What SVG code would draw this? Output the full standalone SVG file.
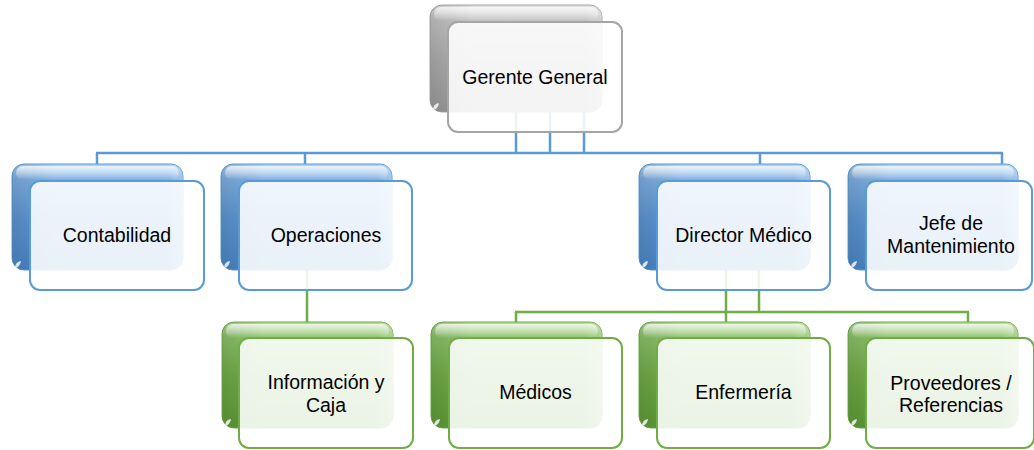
<svg xmlns="http://www.w3.org/2000/svg" width="1034" height="450" viewBox="0 0 1034 450">
  <defs>
    <linearGradient id="gBlue" x1="0" y1="0" x2="0" y2="1">
      <stop offset="0" stop-color="#b3d3f2"/>
      <stop offset="0.14" stop-color="#7fb1e4"/>
      <stop offset="0.5" stop-color="#5f98d6"/>
      <stop offset="1" stop-color="#4a87c8"/>
    </linearGradient>
    <linearGradient id="gGreen" x1="0" y1="0" x2="0" y2="1">
      <stop offset="0" stop-color="#b9dca0"/>
      <stop offset="0.14" stop-color="#8cc46a"/>
      <stop offset="0.5" stop-color="#72ae4a"/>
      <stop offset="1" stop-color="#5f9c38"/>
    </linearGradient>
    <linearGradient id="gGrey" x1="0" y1="0" x2="0" y2="1">
      <stop offset="0" stop-color="#e2e2e2"/>
      <stop offset="0.14" stop-color="#c4c4c4"/>
      <stop offset="0.5" stop-color="#b0b0b0"/>
      <stop offset="1" stop-color="#9c9c9c"/>
    </linearGradient>
    <!-- soft sheen along the top edge of the back plate -->
    <linearGradient id="gSheen" x1="0" y1="0" x2="0" y2="1">
      <stop offset="0" stop-color="#ffffff" stop-opacity="0.75"/>
      <stop offset="1" stop-color="#ffffff" stop-opacity="0"/>
    </linearGradient>
    <!-- darker shading down the left side of the back plate -->
    <linearGradient id="gSide" x1="0" y1="0" x2="1" y2="0">
      <stop offset="0" stop-color="#000000" stop-opacity="0.12"/>
      <stop offset="0.25" stop-color="#000000" stop-opacity="0"/>
      <stop offset="0.9" stop-color="#ffffff" stop-opacity="0"/>
      <stop offset="1" stop-color="#ffffff" stop-opacity="0.25"/>
    </linearGradient>
  </defs>
  <style>
    .back { rx: 12px; ry: 12px; stroke-width: 1; }
    .sheen { fill: url(#gSheen); }
    .side { fill: url(#gSide); }
    .notch { fill: #ffffff; opacity: 0.8; }
    .front { rx: 10px; ry: 10px; fill: #ffffff; fill-opacity: 0.88; stroke-width: 2; }
    .blue .back { fill: url(#gBlue); stroke: #5b9bd5; }
    .blue .front { stroke: #5b9bd5; }
    .green .back { fill: url(#gGreen); stroke: #70ad47; }
    .green .front { stroke: #70ad47; }
    .grey .back { fill: url(#gGrey); stroke: #a5a5a5; }
    .grey .front { stroke: #a5a5a5; }
    .label { font-family: "Liberation Sans", Arial, sans-serif; font-size: 19.5px; fill: #000000; text-anchor: middle; }
    .lnBlue { stroke: #5b9bd5; stroke-width: 2.5; fill: none; }
    .lnGreen { stroke: #70ad47; stroke-width: 2.5; fill: none; }
  </style>

  <!-- connectors -->
  <g id="connectors">
    <path class="lnBlue" d="M516 112V153M550 112V153M584 112V153M96 153H1003M97 153V164M305 153V164M760 153V164M1002 153V164"/>
    <path class="lnGreen" d="M307 270V322M726 270V322M759 270V312M515 312H969M516 312V322M968 312V322"/>
  </g>

  <!-- top node -->
  <g id="node-gerente" class="grey">
    <rect class="back" x="430" y="5" width="172" height="107"/>
    <rect class="side" x="430" y="5" width="172" height="107" rx="12"/>
    <rect class="sheen" x="434" y="7" width="164" height="14" rx="7"/>
    <path class="notch" d="M433 110q0-6 6-7q-1 6-6 7z"/>
    <rect class="front" x="448" y="22" width="174" height="110"/>
    <text class="label" x="535" y="84">Gerente General</text>
  </g>

  <!-- second level -->
  <g id="node-contabilidad" class="blue">
    <rect class="back" x="12" y="164" width="171" height="106"/>
    <rect class="side" x="12" y="164" width="171" height="106" rx="12"/>
    <rect class="sheen" x="16" y="166" width="163" height="14" rx="7"/>
    <path class="notch" d="M15 268q0-6 6-7q-1 6-6 7z"/>
    <rect class="front" x="30" y="181" width="174" height="109"/>
    <text class="label" x="117" y="242">Contabilidad</text>
  </g>

  <g id="node-operaciones" class="blue">
    <rect class="back" x="221" y="164" width="171" height="106"/>
    <rect class="side" x="221" y="164" width="171" height="106" rx="12"/>
    <rect class="sheen" x="225" y="166" width="163" height="14" rx="7"/>
    <path class="notch" d="M224 268q0-6 6-7q-1 6-6 7z"/>
    <rect class="front" x="239" y="181" width="173" height="109"/>
    <text class="label" x="326" y="242">Operaciones</text>
  </g>

  <g id="node-director" class="blue">
    <rect class="back" x="639" y="164" width="171" height="106"/>
    <rect class="side" x="639" y="164" width="171" height="106" rx="12"/>
    <rect class="sheen" x="643" y="166" width="163" height="14" rx="7"/>
    <path class="notch" d="M642 268q0-6 6-7q-1 6-6 7z"/>
    <rect class="front" x="657" y="181" width="173" height="109"/>
    <text class="label" x="743.5" y="242">Director Médico</text>
  </g>

  <g id="node-mantenimiento" class="blue">
    <rect class="back" x="848" y="164" width="170" height="106"/>
    <rect class="side" x="848" y="164" width="170" height="106" rx="12"/>
    <rect class="sheen" x="852" y="166" width="162" height="14" rx="7"/>
    <path class="notch" d="M851 268q0-6 6-7q-1 6-6 7z"/>
    <rect class="front" x="866" y="181" width="166" height="109"/>
    <text class="label" x="951" y="230">Jefe de</text>
    <text class="label" x="951" y="253">Mantenimiento</text>
  </g>

  <!-- third level -->
  <g id="node-informacion" class="green">
    <rect class="back" x="222" y="322" width="171" height="106"/>
    <rect class="side" x="222" y="322" width="171" height="106" rx="12"/>
    <rect class="sheen" x="226" y="324" width="163" height="14" rx="7"/>
    <path class="notch" d="M225 426q0-6 6-7q-1 6-6 7z"/>
    <rect class="front" x="239" y="338" width="174" height="110"/>
    <text class="label" x="326" y="389">Información y</text>
    <text class="label" x="326" y="412">Caja</text>
  </g>

  <g id="node-medicos" class="green">
    <rect class="back" x="431" y="322" width="171" height="106"/>
    <rect class="side" x="431" y="322" width="171" height="106" rx="12"/>
    <rect class="sheen" x="435" y="324" width="163" height="14" rx="7"/>
    <path class="notch" d="M434 426q0-6 6-7q-1 6-6 7z"/>
    <rect class="front" x="449" y="338" width="173" height="110"/>
    <text class="label" x="535.5" y="399">Médicos</text>
  </g>

  <g id="node-enfermeria" class="green">
    <rect class="back" x="639" y="322" width="171" height="106"/>
    <rect class="side" x="639" y="322" width="171" height="106" rx="12"/>
    <rect class="sheen" x="643" y="324" width="163" height="14" rx="7"/>
    <path class="notch" d="M642 426q0-6 6-7q-1 6-6 7z"/>
    <rect class="front" x="657" y="338" width="173" height="110"/>
    <text class="label" x="743.5" y="399">Enfermería</text>
  </g>

  <g id="node-proveedores" class="green">
    <rect class="back" x="848" y="322" width="170" height="106"/>
    <rect class="side" x="848" y="322" width="170" height="106" rx="12"/>
    <rect class="sheen" x="852" y="324" width="162" height="14" rx="7"/>
    <path class="notch" d="M851 426q0-6 6-7q-1 6-6 7z"/>
    <rect class="front" x="866" y="338" width="168" height="110"/>
    <text class="label" x="951" y="390">Proveedores /</text>
    <text class="label" x="951" y="412">Referencias</text>
  </g>
</svg>
